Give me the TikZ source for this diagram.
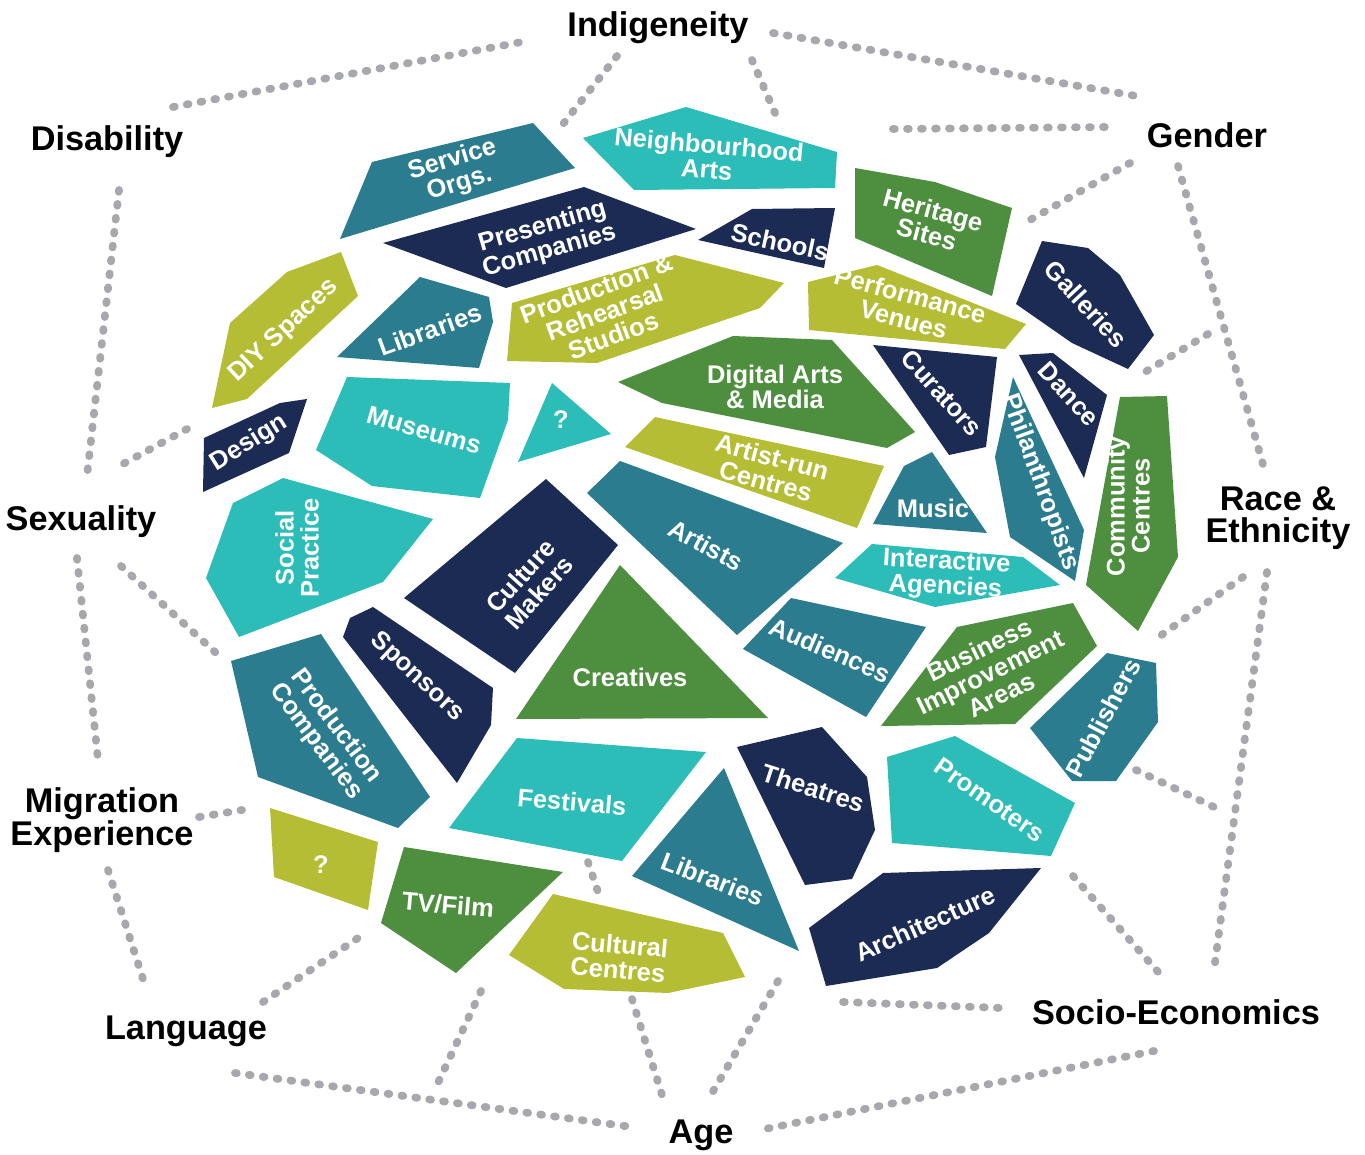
\documentclass[tikz,border=0pt]{standalone}
\usepackage{fontspec}
\setmainfont{Liberation Sans}
\begin{document}
\begin{tikzpicture}[x=1pt,y=-1pt,
  inner/.style={text=white,font=\bfseries\fontsize{25.5}{25}\selectfont,align=center,inner sep=0pt},
  facet/.style={font=\bfseries\fontsize{34.3}{32.5}\selectfont,text=black,align=center,inner sep=0pt},
  dotline/.style={draw=dotgrey,line width=7.8pt,line cap=round,dash pattern=on 1.8pt off 12.2pt}]
\definecolor{navy}{HTML}{1B2B53}
\definecolor{teal}{HTML}{2B7C8E}
\definecolor{leaf}{HTML}{4E8E3F}
\definecolor{lime}{HTML}{B5BD34}
\definecolor{aqua}{HTML}{2CBDB9}
\definecolor{dotgrey}{HTML}{A7A8AD}
\useasboundingbox (0,0) rectangle (1365,1155);

% ---- dotted links between the facets ----
\draw[dotline] (173,107) -- (527,41);
\draw[dotline] (617,56) -- (563,124);
\draw[dotline] (752,60) -- (775,113);
\draw[dotline] (773,33) -- (1142,97);
\draw[dotline] (893,129) -- (1109,127);
\draw[dotline] (1130,163) -- (1030,220);
\draw[dotline] (1178,166) -- (1264,468);
\draw[dotline] (1208,334) -- (1145,372);
\draw[dotline] (1243,577) -- (1160,636);
\draw[dotline] (1267,572) -- (1214,970);
\draw[dotline] (1136,770) -- (1216,808);
\draw[dotline] (1073,876) -- (1159,973);
\draw[dotline] (843,1002) -- (1002,1008);
\draw[dotline] (1154,1051) -- (760,1130);
\draw[dotline] (778,981) -- (712,1093);
\draw[dotline] (632,999) -- (662,1095);
\draw[dotline] (588,862) -- (600,898);
\draw[dotline] (481,991) -- (437,1085);
\draw[dotline] (235,1073) -- (632,1127);
\draw[dotline] (263,1002) -- (358,938);
\draw[dotline] (108,870) -- (143,979);
\draw[dotline] (199,817) -- (242,810);
\draw[dotline] (77,558) -- (98,760);
\draw[dotline] (121,566) -- (216,653);
\draw[dotline] (119,190) -- (87,476);
\draw[dotline] (187,429) -- (123,464);

% ---- facet labels ----
\node[facet] (indig) at (658,28) {Indigeneity};
\node[facet] (disab) at (107,142) {Disability};
\node[facet] (gender) at (1207,135) {Gender};
\node[facet] (race) at (1278,518) {Race \&\\Ethnicity};
\node[facet] (sexu) at (81,522) {Sexuality};
\node[facet] (migr) at (102,820) {Migration\\Experience};
\node[facet] (lang) at (186,1031) {Language};
\node[facet] (age) at (701,1135) {Age};
\node[facet] (socio) at (1176,1012) {Socio-Economics};

% ---- tiles ----
\fill[teal] (340,239) -- (372,162) -- (533,123) -- (575,168) -- cycle;
\node[inner,rotate=17] (service) at (456,172) {Service\\Orgs.};

\fill[aqua] (583,138) -- (686,107) -- (837,152) -- (835,188) -- (634,190) -- cycle;
\node[inner,rotate=-5] (neigh) at (708,157) {Neighbourhood\\Arts};

\fill[navy] (383,243) -- (584,187) -- (696,229) -- (506,288) -- cycle;
\node[inner,rotate=16] (present) at (546,239) {Presenting\\Companies};

\fill[navy] (698,240) -- (752,209) -- (835,208) -- (824,268) -- cycle;
\node[inner,rotate=-12] (schools) at (780,242) {Schools};

\fill[leaf] (855,168) -- (935,182) -- (1012,208) -- (992,296) -- (855,238) -- cycle;
\node[inner,rotate=-15] (heritage) at (930,222) {Heritage\\Sites};

\fill[navy] (1042,241) -- (1088,248) -- (1120,275) -- (1154,335) -- (1128,369) -- (1072,343) -- (1016,304) -- cycle;
\node[inner,rotate=-47] (galleries) at (1086,304) {Galleries};

\fill[lime] (341,252) -- (358,296) -- (247,399) -- (212,408) -- (230,323) -- (287,272) -- cycle;
\node[inner,rotate=43] (diy) at (284,331) {DIY Spaces};

\fill[teal] (337,357) -- (420,277) -- (489,297) -- (493,322) -- (479,368) -- cycle;
\node[inner,rotate=20] (libtop) at (430,330) {Libraries};

\fill[lime] (512,303) -- (675,255) -- (784,283) -- (760,308) -- (597,363) -- (507,361) -- cycle;
\node[inner,rotate=20] (prodreh) at (605,312) {Production \&\\Rehearsal\\Studios};

\fill[lime] (808,282) -- (877,265) -- (1026,324) -- (1005,349) -- (809,330) -- cycle;
\node[inner,rotate=-15] (perform) at (907,307) {Performance\\Venues};

\fill[leaf] (618,382) -- (733,336) -- (832,340) -- (915,432) -- (887,448) -- (662,403) -- cycle;
\node[inner] (digital) at (775,387) {Digital Arts\\\& Media};

\fill[navy] (873,345) -- (997,357) -- (986,447) -- (949,455) -- cycle;
\node[inner,rotate=-48] (curators) at (942,393) {Curators};

\fill[navy] (1019,355) -- (1053,353) -- (1107,395) -- (1084,478) -- cycle;
\node[inner,rotate=-48] (dance) at (1069,394) {Dance};

\fill[teal] (1013,377) -- (1084,530) -- (1075,581) -- (1010,537) -- (995,457) -- cycle;
\node[inner,rotate=-70] (philan) at (1040,482) {Philanthropists};

\fill[leaf] (1120,397) -- (1167,396) -- (1178,557) -- (1138,631) -- (1086,585) -- cycle;
\node[inner,rotate=90] (community) at (1128,506) {Community\\Centres};

\fill[navy] (204,438) -- (280,403) -- (307,399) -- (289,453) -- (203,492) -- cycle;
\node[inner,rotate=32] (design) at (249,443) {Design};

\fill[aqua] (316,450) -- (347,377) -- (510,383) -- (508,420) -- (480,498) -- (372,486) -- cycle;
\node[inner,rotate=-16] (museums) at (424,430) {Museums};

\fill[aqua] (552,383) -- (611,434) -- (518,462) -- cycle;
\node[inner] (qmark) at (561,420) {?};

\fill[lime] (625,447) -- (655,417) -- (884,466) -- (857,528) -- cycle;
\node[inner,rotate=-15] (artistrun) at (769,469) {Artist-run\\Centres};

\fill[teal] (873,524) -- (904,466) -- (932,452) -- (987,533) -- cycle;
\node[inner] (music) at (933,508) {Music};

\fill[aqua] (233,503) -- (283,478) -- (433,519) -- (383,582) -- (239,637) -- (206,578) -- cycle;
\node[inner,rotate=90] (social) at (297,548) {Social\\Practice};

\fill[navy] (404,598) -- (546,479) -- (618,545) -- (515,673) -- cycle;
\node[inner,rotate=48] (culture) at (530,584) {Culture\\Makers};

\fill[teal] (587,493) -- (620,461) -- (843,543) -- (737,635) -- cycle;
\node[inner,rotate=-28] (artists) at (706,545) {Artists};

\fill[aqua] (835,578) -- (872,544) -- (1023,557) -- (1060,585) -- (935,607) -- cycle;
\node[inner,rotate=-3] (interactive) at (946,575) {Interactive\\Agencies};

\fill[teal] (743,649) -- (791,598) -- (926,627) -- (866,717) -- cycle;
\node[inner,rotate=-23] (audiences) at (830,650) {Audiences};

\fill[leaf] (957,627) -- (1073,603) -- (1097,646) -- (1015,724) -- (881,726) -- cycle;
\node[inner,rotate=26] (bia) at (990,672) {Business\\Improvement\\Areas};

\fill[teal] (1030,728) -- (1107,653) -- (1156,663) -- (1158,722) -- (1116,781) -- (1072,781) -- cycle;
\node[inner,rotate=62] (publishers) at (1103,718) {Publishers};

\fill[navy] (343,637) -- (350,618) -- (373,607) -- (493,688) -- (491,725) -- (457,783) -- cycle;
\node[inner,rotate=-43] (sponsors) at (417,677) {Sponsors};

\fill[teal] (231,661) -- (321,634) -- (430,797) -- (398,828) -- (258,777) -- cycle;
\node[inner,rotate=-53] (prodcomp) at (326,734) {Production\\Companies};

\fill[leaf] (620,565) -- (768,718) -- (516,719) -- cycle;
\node[inner] (creatives) at (630,677) {Creatives};

\fill[aqua] (517,738) -- (706,752) -- (622,861) -- (449,828) -- cycle;
\node[inner,rotate=-5] (festivals) at (572,802) {Festivals};

\fill[navy] (737,747) -- (822,727) -- (867,777) -- (875,830) -- (852,879) -- (805,885) -- cycle;
\node[inner,rotate=-18] (theatres) at (813,788) {Theatres};

\fill[aqua] (887,757) -- (955,736) -- (1075,803) -- (1051,856) -- (892,843) -- cycle;
\node[inner,rotate=-35] (promoters) at (990,800) {Promoters};

\fill[lime] (270,808) -- (378,842) -- (368,910) -- (274,877) -- cycle;
\node[inner] (qmarktwo) at (321,865) {?};

\fill[leaf] (404,847) -- (563,872) -- (456,973) -- (381,923) -- cycle;
\node[inner,rotate=-5] (tvfilm) at (448,905) {TV/Film};

\fill[teal] (632,876) -- (724,768) -- (799,951) -- cycle;
\node[inner,rotate=-21] (libbottom) at (713,879) {Libraries};

\fill[lime] (553,894) -- (723,933) -- (745,977) -- (668,993) -- (564,989) -- (509,955) -- cycle;
\node[inner,rotate=-5] (cultural) at (619,957) {Cultural\\Centres};

\fill[navy] (809,928) -- (883,873) -- (1041,868) -- (989,933) -- (937,968) -- (826,986) -- cycle;
\node[inner,rotate=24] (architecture) at (925,924) {Architecture};
\end{tikzpicture}
\end{document}
